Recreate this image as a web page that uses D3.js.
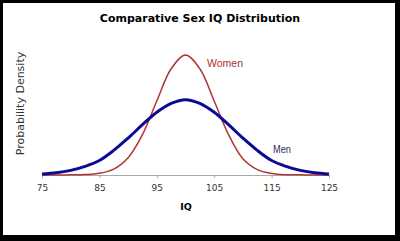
<!DOCTYPE html>
<html>
<head>
<meta charset="utf-8">
<script src="https://cdn.jsdelivr.net/npm/d3@7"></script>
<style>
    body { margin: 0; background: white; }
    svg { display: block; }
</style>
</head>
<body>
<script>
// IQ values on the x axis, every 2.5 points
const iq = [75, 77.5, 80, 82.5, 85, 87.5, 90, 92.5, 95, 97.5, 100, 102.5, 105, 107.5, 110, 112.5, 115, 117.5, 120, 122.5, 125]

// densities
const men = [0.0006, 0.0014, 0.0030, 0.0056, 0.0094, 0.0160, 0.0240, 0.0327, 0.0408, 0.0466, 0.0490,
             0.0466, 0.0408, 0.0327, 0.0240, 0.0160, 0.0094, 0.0056, 0.0030, 0.0014, 0.0006]
const women = [0, 0, 0.0001, 0.0003, 0.0011, 0.0038, 0.0112, 0.0262, 0.0481, 0.0691, 0.0780,
               0.0691, 0.0481, 0.0262, 0.0105, 0.0035, 0.0010, 0.0002, 0.0001, 0, 0]

const tickValues = [75, 85, 95, 105, 115, 125]

const [width, height] = [400, 241]
const font = 'DejaVu Sans, Verdana, sans-serif'
const labelFont = 'Liberation Sans, Arial, sans-serif'

const svg = d3.select("body")
    .append('svg')
        .attr('width', width)
        .attr('height', height)

// black frame round the white chart area
svg.append('rect').attr('width', width).attr('height', height).attr('fill', '#000')
svg.append('rect').attr('x', 3).attr('y', 3).attr('width', 392).attr('height', 232).attr('fill', '#fff')

const x = d3.scaleLinear().domain([75, 125]).range([42, 329])
const y = d3.scaleLinear().domain([0, 0.1]).range([175, 21.2])

const axis = svg.append('g')
    .attr('transform', `translate(0,${y(0)})`)
    .call(d3.axisBottom(x).tickValues(tickValues).tickSize(3).tickPadding(7).tickFormat(d3.format('d')))
axis.select('.domain').attr('stroke', '#aaa')
axis.selectAll('.tick line').attr('stroke', '#aaa')
axis.selectAll('.tick text')
    .attr('fill', '#333')
    .style('font-family', font)
    .style('font-size', '9px')

const line = d3.line()
    .x((d, i) => x(iq[i]))
    .y(d => y(d))
    .curve(d3.curveCatmullRom)

svg.append('path')
    .datum(women)
    .attr('d', line)
    .attr('fill', 'none')
    .attr('stroke', '#b03434')
    .attr('stroke-width', 1.5)

svg.append('path')
    .datum(men)
    .attr('d', line)
    .attr('fill', 'none')
    .attr('stroke', '#0a0a96')
    .attr('stroke-width', 3)

svg.append('text')
    .text('Comparative Sex IQ Distribution')
    .attr('x', 200).attr('y', 21.5)
    .attr('text-anchor', 'middle')
    .style('font-family', font)
    .style('font-weight', 'bold')
    .style('font-size', '11px')

svg.append('text')
    .text('IQ')
    .attr('x', 186).attr('y', 210)
    .attr('text-anchor', 'middle')
    .style('font-family', font)
    .style('font-weight', 'bold')
    .style('font-size', '9.5px')

svg.append('text')
    .text('Probability Density')
    .attr('transform', 'translate(24,103.5) rotate(-90)')
    .attr('text-anchor', 'middle')
    .attr('fill', '#333')
    .style('font-family', font)
    .style('font-size', '11px')

// series labels: slightly condensed, like in the picture
svg.append('text')
    .text('Women')
    .attr('x', 207).attr('y', 67)
    .attr('textLength', 36).attr('lengthAdjust', 'spacingAndGlyphs')
    .attr('fill', '#a83434')
    .style('font-family', labelFont)
    .style('font-size', '11.5px')

svg.append('text')
    .text('Men')
    .attr('x', 273).attr('y', 153)
    .attr('textLength', 18).attr('lengthAdjust', 'spacingAndGlyphs')
    .attr('fill', '#2c2c6c')
    .style('font-family', labelFont)
    .style('font-size', '11.5px')
</script>
</body>
</html>
